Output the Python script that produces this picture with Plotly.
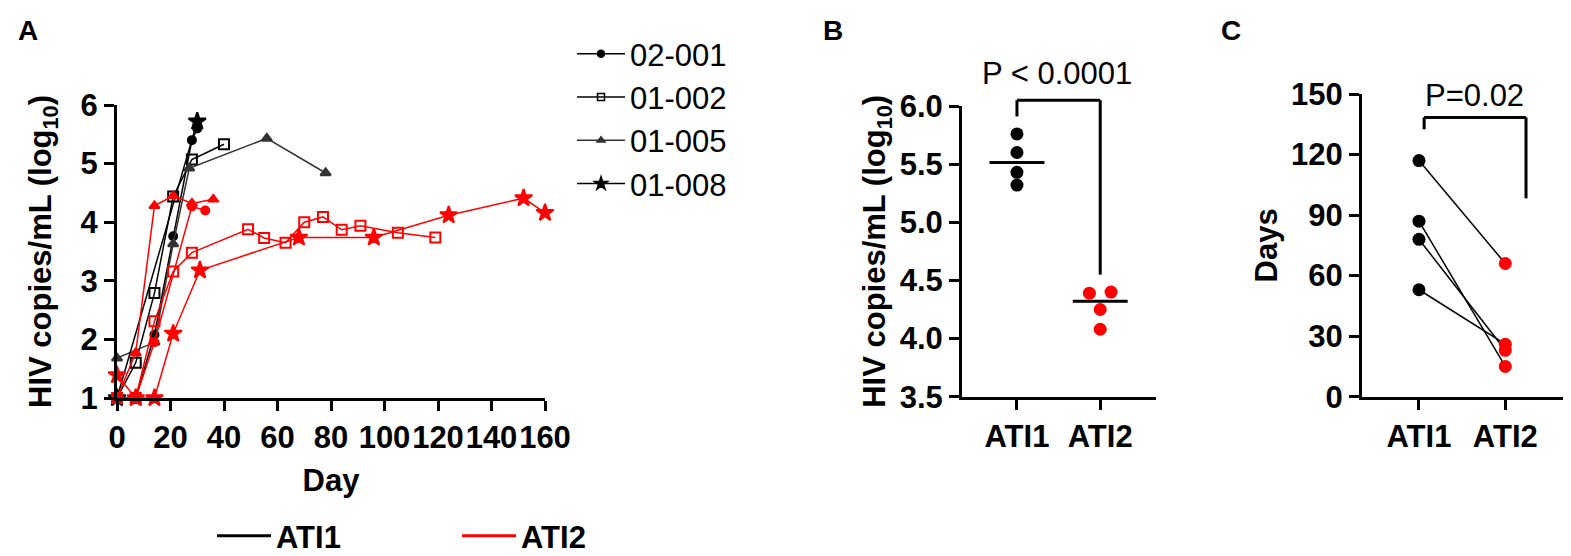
import numpy as np
import plotly.graph_objects as go

# --------------------- Data -------------------------------------
# Panel A: viral load over time, per participant and per ATI
subjects = ['02-001', '01-002', '01-005', '01-008']

day_001_ati1 = [0, 7, 14, 21, 28, 30]
vl_001_ati1 = [1.0, 1.0, 2.08, 3.76, 5.40, 5.60]
day_001_ati2 = [0, 7, 14, 28, 33]
vl_001_ati2 = [1.0, 1.0, 1.95, 4.27, 4.20]

day_002_ati1 = [0, 7, 14, 21, 28, 40]
vl_002_ati1 = [1.0, 1.60, 2.79, 4.44, 5.07, 5.33]
day_002_ati2 = [0, 7, 14, 21, 28, 49, 55, 63, 70, 77, 84, 91, 105, 119]
vl_002_ati2 = [1.0, 1.0, 2.31, 3.16, 3.48, 3.88, 3.73, 3.65, 4.00, 4.09, 3.87, 3.94, 3.82, 3.74]

day_005_ati1 = [0, 14, 21, 27, 56, 78]
vl_005_ati1 = [1.68, 1.95, 3.63, 4.92, 5.43, 4.84]
day_005_ati2 = [0, 7, 14, 21, 28, 36]
vl_005_ati2 = [1.0, 1.77, 4.28, 4.45, 4.32, 4.39]

day_008_ati1 = [0, 30]
vl_008_ati1 = [1.0, 5.72]
day_008_ati2 = [0, 7, 14, 21, 31, 68, 96, 124, 152, 160]
vl_008_ati2 = [1.39, 1.0, 1.0, 2.10, 3.18, 3.74, 3.74, 4.12, 4.41, 4.16]

day_ticks = [0, 20, 40, 60, 80, 100, 120, 140, 160]

# Panel B: peak viral load per ATI
groups = ['ATI1', 'ATI2']
peak_ati1 = [5.76, 5.60, 5.43, 5.32]
peak_ati2 = [4.39, 4.40, 4.25, 4.08]
p_peak = 'P < 0.0001'

# Panel C: days per ATI (paired)
days_ati1 = [117, 87, 78, 53]
days_ati2 = [66, 15, 23, 26]
p_days = 'P=0.02'

# --------------------- Settings -------------------------------------
# the page body has an 8 px margin, so the figure is made smaller by that much
OFF = 8
W, H = 1571 - OFF, 556 - OFF
font_family = 'Liberation Sans, Arial, sans-serif'
black = '#000000'
grey = '#333333'
red = '#ff0000'
fs = 31


def px(p):
    # window pixel (x) -> paper fraction
    return (p - OFF) / W


def py(p):
    # window pixel (y) -> paper fraction
    return 1 - (p - OFF) / H


def dom(v, rng):
    # data value -> fraction of axis domain
    return (v - rng[0]) / (rng[1] - rng[0])


def swarm_offsets(vals, min_gap=0.1, step=0.26):
    # spread points that would overlap on the same category
    vals = np.asarray(vals)
    offs = np.zeros(len(vals))
    order = np.argsort(vals)
    i = 0
    while i < len(order):
        j = i
        while j + 1 < len(order) and vals[order[j + 1]] - vals[order[j]] < min_gap:
            j += 1
        k = j - i + 1
        for n, idx in enumerate(order[i:j + 1]):
            offs[idx] = (n - (k - 1) / 2) * step
        i = j + 1
    return offs


fig = go.Figure()

# --------------------- Panel A -------------------------------------
series = [
    (day_001_ati1, vl_001_ati1, day_001_ati2, vl_001_ati2, 'circle', 8, black),
    (day_002_ati1, vl_002_ati1, day_002_ati2, vl_002_ati2, 'square-open', 10, black),
    (day_005_ati1, vl_005_ati1, day_005_ati2, vl_005_ati2, 'triangle-up', 9, grey),
    (day_008_ati1, vl_008_ati1, day_008_ati2, vl_008_ati2, 'star', 13, black),
]
legend_sizes = [7, 7, 7, 10]

# ATI1 first, ATI2 drawn on top
for d1, v1, d2, v2, sym, size, col1 in series:
    fig.add_trace(go.Scatter(x=d1, y=v1, mode='lines+markers', showlegend=False, cliponaxis=False,
                             line=dict(color=col1, width=1.5),
                             marker=dict(symbol=sym, size=size, color=col1, line=dict(width=2, color=col1)),
                             xaxis='x', yaxis='y'))
for d1, v1, d2, v2, sym, size, col1 in series:
    fig.add_trace(go.Scatter(x=d2, y=v2, mode='lines+markers', showlegend=False, cliponaxis=False,
                             line=dict(color=red, width=1.5),
                             marker=dict(symbol=sym, size=size, color=red, line=dict(width=2, color=red)),
                             xaxis='x', yaxis='y'))

# legend entries for participants
for subj, (d1, v1, d2, v2, sym, size, col1), ls in zip(subjects, series, legend_sizes):
    fig.add_trace(go.Scatter(x=[None], y=[None], mode='lines+markers', name=subj, legend='legend',
                             line=dict(color=col1, width=1.5),
                             marker=dict(symbol=sym, size=ls, color=col1, line=dict(width=1.5, color=col1)),
                             xaxis='x', yaxis='y'))

# legend entries for ATI colours
for g, col in zip(groups, [black, red]):
    fig.add_trace(go.Scatter(x=[None], y=[None], mode='lines', name=g, legend='legend2',
                             line=dict(color=col, width=3), xaxis='x', yaxis='y'))

# --------------------- Panel B -------------------------------------
rng_b_x = [-0.66, 1.67]
rng_b_y = [3.5, 6.0]
for i, (vals, col) in enumerate(zip([peak_ati1, peak_ati2], [black, red])):
    xs = i + swarm_offsets(vals)
    fig.add_trace(go.Scatter(x=xs, y=vals, mode='markers', showlegend=False, cliponaxis=False,
                             marker=dict(size=13, color=col), xaxis='x2', yaxis='y2'))
    med = float(np.median(vals))
    fig.add_shape(type='line', xref='x2', yref='y2', x0=i - 0.33, x1=i + 0.33, y0=med, y1=med,
                  line=dict(color=black, width=3))

# significance bracket
br_b = [(0, 5.91, 0, 6.05), (0, 6.05, 1, 6.05), (1, 6.05, 1, 4.55)]
for x0, y0, x1, y1 in br_b:
    fig.add_shape(type='line', xref='x2 domain', yref='y2 domain',
                  x0=dom(x0, rng_b_x), x1=dom(x1, rng_b_x), y0=dom(y0, rng_b_y), y1=dom(y1, rng_b_y),
                  line=dict(color=black, width=3))
fig.add_annotation(text=p_peak, xref='x2 domain', yref='y2 domain', x=dom(0.48, rng_b_x),
                   y=dom(6.28, rng_b_y), showarrow=False, xanchor='center', yanchor='middle',
                   font=dict(family=font_family, size=fs, color=black))

# --------------------- Panel C -------------------------------------
rng_c_x = [-0.66, 1.68]
rng_c_y = [0, 150]
for a, b in zip(days_ati1, days_ati2):
    fig.add_trace(go.Scatter(x=[0, 1], y=[a, b], mode='lines', showlegend=False,
                             line=dict(color=black, width=1.5), xaxis='x3', yaxis='y3'))
fig.add_trace(go.Scatter(x=[0] * len(days_ati1), y=days_ati1, mode='markers', showlegend=False, cliponaxis=False,
                         marker=dict(size=13, color=black), xaxis='x3', yaxis='y3'))
fig.add_trace(go.Scatter(x=[1] * len(days_ati2), y=days_ati2, mode='markers', showlegend=False, cliponaxis=False,
                         marker=dict(size=13, color=red), xaxis='x3', yaxis='y3'))

br_c = [(0.06, 132.5, 0.06, 138.4), (0.06, 138.4, 1.24, 138.4), (1.24, 138.4, 1.24, 98.3)]
for x0, y0, x1, y1 in br_c:
    fig.add_shape(type='line', xref='x3 domain', yref='y3 domain',
                  x0=dom(x0, rng_c_x), x1=dom(x1, rng_c_x), y0=dom(y0, rng_c_y), y1=dom(y1, rng_c_y),
                  line=dict(color=black, width=3))
fig.add_annotation(text=p_days, xref='x3 domain', yref='y3 domain', x=dom(0.64, rng_c_x),
                   y=dom(149.5, rng_c_y), showarrow=False, xanchor='center', yanchor='middle',
                   font=dict(family=font_family, size=fs, color=black))

# --------------------- Panel letters -------------------------------------
for letter, lx in zip(['A', 'B', 'C'], [28, 833, 1231]):
    fig.add_annotation(text='<b>' + letter + '</b>', xref='paper', yref='paper', x=px(lx), y=py(31),
                       xanchor='center', yanchor='middle', showarrow=False,
                       font=dict(family=font_family, size=28, color=black))

# --------------------- Layout -------------------------------------
tick_font = dict(family=font_family, size=fs, color=black, weight='bold')
title_font = dict(family=font_family, size=fs, color=black, weight='bold')
axis_common = dict(showgrid=False, zeroline=False, showline=True, linecolor=black, linewidth=3,
                   ticks='outside', ticklen=10, tickwidth=3, tickcolor=black, tickfont=tick_font,
                   tickangle=0, automargin=False)

fig.update_layout(
    width=W, height=H,
    margin=dict(l=0, r=0, t=0, b=0, autoexpand=False),
    paper_bgcolor='white', plot_bgcolor='white',
    font=dict(family=font_family, color=black),
    xaxis=dict(axis_common, domain=[px(117), px(545)], range=[0, 160], tickvals=day_ticks,
               title=dict(text='Day', font=title_font, standoff=16), anchor='y'),
    yaxis=dict(axis_common, domain=[py(398), py(105)], range=[1, 6], dtick=1,
               title=dict(text='HIV copies/mL (log<sub>10</sub>)', font=title_font, standoff=20), anchor='x'),
    xaxis2=dict(axis_common, domain=[px(962), px(1156)], range=rng_b_x, tickvals=[0, 1], ticktext=groups,
                anchor='y2'),
    yaxis2=dict(axis_common, domain=[py(396.7), py(106)], range=rng_b_y, dtick=0.5, tickformat='.1f',
                title=dict(text='HIV copies/mL (log<sub>10</sub>)', font=title_font, standoff=5), anchor='x2'),
    xaxis3=dict(axis_common, domain=[px(1362), px(1564)], range=rng_c_x, tickvals=[0, 1], ticktext=groups,
                anchor='y3'),
    yaxis3=dict(axis_common, domain=[py(396.7), py(94)], range=rng_c_y, dtick=30,
                title=dict(text='Days', font=title_font, standoff=5), anchor='x3'),
    legend=dict(x=px(572), y=py(27), xanchor='left', yanchor='top', bgcolor='rgba(0,0,0,0)',
                font=dict(family=font_family, size=fs, color=black), tracegroupgap=0, itemwidth=48),
    legend2=dict(orientation='h', x=px(212), y=py(536), xanchor='left', yanchor='middle',
                 bgcolor='rgba(0,0,0,0)', entrywidth=176, entrywidthmode='pixels', itemwidth=54,
                 font=dict(family=font_family, size=fs, color=black, weight='bold')),
)

fig.write_html("out.html")
